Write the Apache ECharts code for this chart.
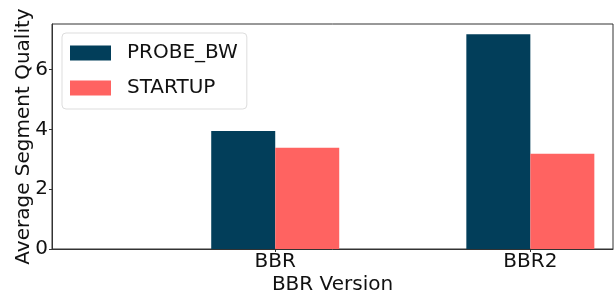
<!DOCTYPE html>
<html>
<head>
<meta charset="utf-8">
<script src="https://cdn.jsdelivr.net/npm/echarts@6/dist/echarts.min.js"></script>
<style>
  html, body { margin: 0; padding: 0; background: #fff; }
  #chart { width: 615px; height: 296px; }
</style>
</head>
<body>
<div id="chart"></div>
<script>
// data
const categories = ['BBR', 'BBR2']
const probeBw = [3.94, 7.18]
const startup = [3.38, 3.18]
const yTicks = [0, 2, 4, 6]

const FONT = 'DejaVu Sans'
const FS = 20
const chart = echarts.init(document.getElementById('chart'))

const toPoints = (vals) => vals.map((v, i) => [i, v])

chart.setOption({
  animation: false,
  backgroundColor: '#fff',
  textStyle: { fontFamily: FONT },
  grid: {
    left: 52, right: 2, top: 24, bottom: 47,
    outerBoundsMode: 'none',
    containLabel: false,
    show: true, borderColor: '#333', borderWidth: 1
  },
  legend: {
    orient: 'vertical',
    left: 62, top: 33,
    padding: [10, 9, 11, 8],
    itemWidth: 41, itemHeight: 15, itemGap: 15,
    icon: 'rect',
    backgroundColor: '#fff',
    borderColor: '#ddd', borderWidth: 1, borderRadius: 4,
    textStyle: { fontFamily: FONT, fontSize: FS, color: '#111', lineHeight: 15, padding: [0, 0, 0, 11] },
    data: ['PROBE_BW', 'STARTUP']
  },
  xAxis: {
    type: 'value',
    min: -0.875, max: 1.324,
    name: 'BBR Version',
    nameLocation: 'middle',
    nameGap: 26,
    nameMoveOverlap: false,
    nameTextStyle: { fontFamily: FONT, fontSize: FS, color: '#111' },
    axisLine: { show: true, onZero: false, lineStyle: { color: '#333' } },
    axisTick: { show: true, length: 3, customValues: [0, 1], lineStyle: { color: '#333' } },
    axisLabel: {
      customValues: [0, 1], margin: 3,
      fontFamily: FONT, fontSize: FS, color: '#111',
      formatter: (v) => categories[Math.round(v)] || ''
    },
    splitLine: { show: false }
  },
  yAxis: {
    type: 'value',
    min: 0, max: 7.52,
    name: 'Average Segment Quality',
    nameLocation: 'middle',
    nameGap: 18,
    nameMoveOverlap: false,
    nameTextStyle: { fontFamily: FONT, fontSize: FS, color: '#111' },
    axisLine: { show: true, onZero: false, lineStyle: { color: '#333' } },
    axisTick: { show: true, length: 3, customValues: yTicks, lineStyle: { color: '#333' } },
    axisLabel: { customValues: yTicks, margin: 4, fontFamily: FONT, fontSize: FS, color: '#111' },
    splitLine: { show: false }
  },
  series: [
    {
      name: 'PROBE_BW', type: 'bar',
      data: toPoints(probeBw),
      barWidth: 64, barGap: '0%',
      itemStyle: { color: '#023e5a' }
    },
    {
      name: 'STARTUP', type: 'bar',
      data: toPoints(startup),
      barWidth: 64, barGap: '0%',
      itemStyle: { color: '#ff6361' }
    }
  ]
})
</script>
</body>
</html>
